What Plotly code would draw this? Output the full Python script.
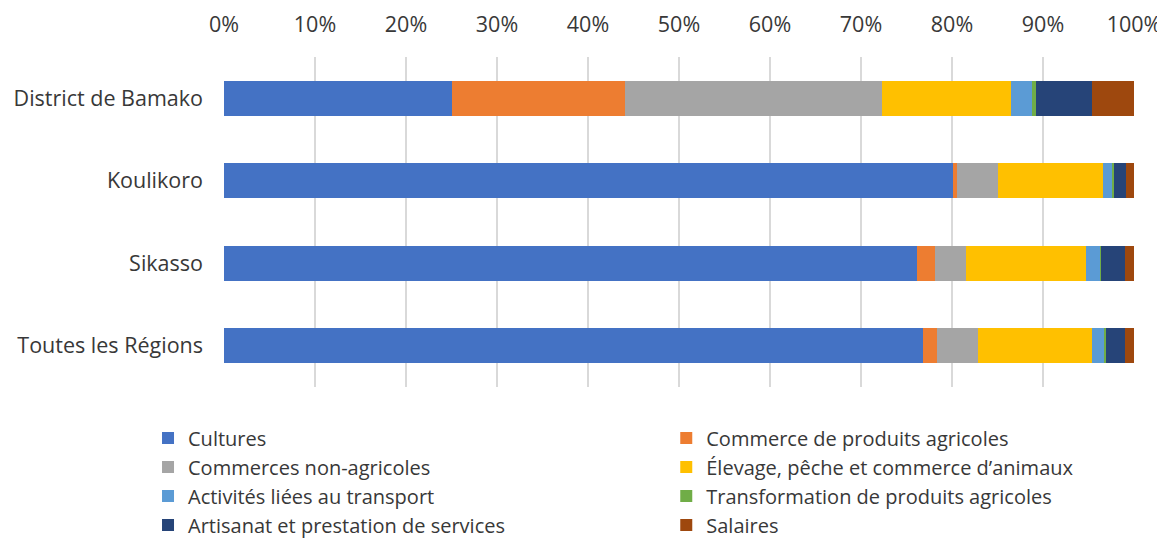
import plotly.graph_objects as go

regions = ["District de Bamako", "Koulikoro", "Sikasso", "Toutes les Régions"]
series_names = [
    "Cultures",
    "Commerce de produits agricoles",
    "Commerces non-agricoles",
    "Élevage, pêche et commerce d’animaux",
    "Activités liées au transport",
    "Transformation de produits agricoles",
    "Artisanat et prestation de services",
    "Salaires",
]
cultures = [25.0, 80.1, 76.1, 76.8]
commerce_agri = [19.1, 0.5, 2.0, 1.6]
commerces_non_agri = [28.2, 4.5, 3.4, 4.5]
elevage = [14.2, 11.5, 13.2, 12.5]
transport = [2.3, 1.0, 1.6, 1.4]
transformation = [0.4, 0.2, 0.1, 0.1]
artisanat = [6.2, 1.3, 2.6, 2.1]
salaires = [4.6, 0.9, 1.0, 1.0]

values = [cultures, commerce_agri, commerces_non_agri, elevage, transport,
          transformation, artisanat, salaires]
colors = ["#4472C4", "#ED7D31", "#A5A5A5", "#FFC000", "#5B9BD5", "#70AD47",
          "#264478", "#9E480E"]

FONT = "Open Sans, Liberation Sans, Arial, sans-serif"
TXT = "#383838"

fig = go.Figure()
for i, (name, vals, col) in enumerate(zip(series_names, values, colors)):
    fig.add_trace(go.Bar(
        name=name, y=regions, x=[v / 100 for v in vals], orientation="h",
        marker=dict(color=col, line=dict(width=0)),
        legend="legend" if i % 2 == 0 else "legend2",
    ))

legend_common = dict(
    orientation="v", yanchor="top", xanchor="left",
    font=dict(family=FONT, size=20, color=TXT), traceorder="normal",
    itemwidth=30, bgcolor="rgba(0,0,0,0)", borderwidth=0,
)

# page body has an 8px margin: figure is sized so that it ends at the window edges
fig.update_layout(
    barmode="stack",
    bargap=0.575,
    width=1157, height=549,
    margin=dict(l=216, r=31, t=49, b=170),
    paper_bgcolor="white", plot_bgcolor="white",
    font=dict(family=FONT, size=21.5, color=TXT),
    xaxis=dict(
        side="top", range=[0, 1], tickformat=".0%", dtick=0.1,
        showgrid=True, gridcolor="#D9D9D9", gridwidth=2,
        zeroline=False, showline=False, ticks="", automargin=False,
        ticklabelstandoff=20,
        tickfont=dict(family=FONT, size=21.5, color=TXT),
    ),
    yaxis=dict(
        autorange="reversed", showgrid=False, ticks="", ticklabelstandoff=20,
        automargin=False,
        tickfont=dict(family=FONT, size=21.5, color=TXT),
    ),
    legend=dict(x=-0.0835, y=-0.0955, **legend_common),
    legend2=dict(x=0.486, y=-0.0955, **legend_common),
)
fig.write_html("out.html")
